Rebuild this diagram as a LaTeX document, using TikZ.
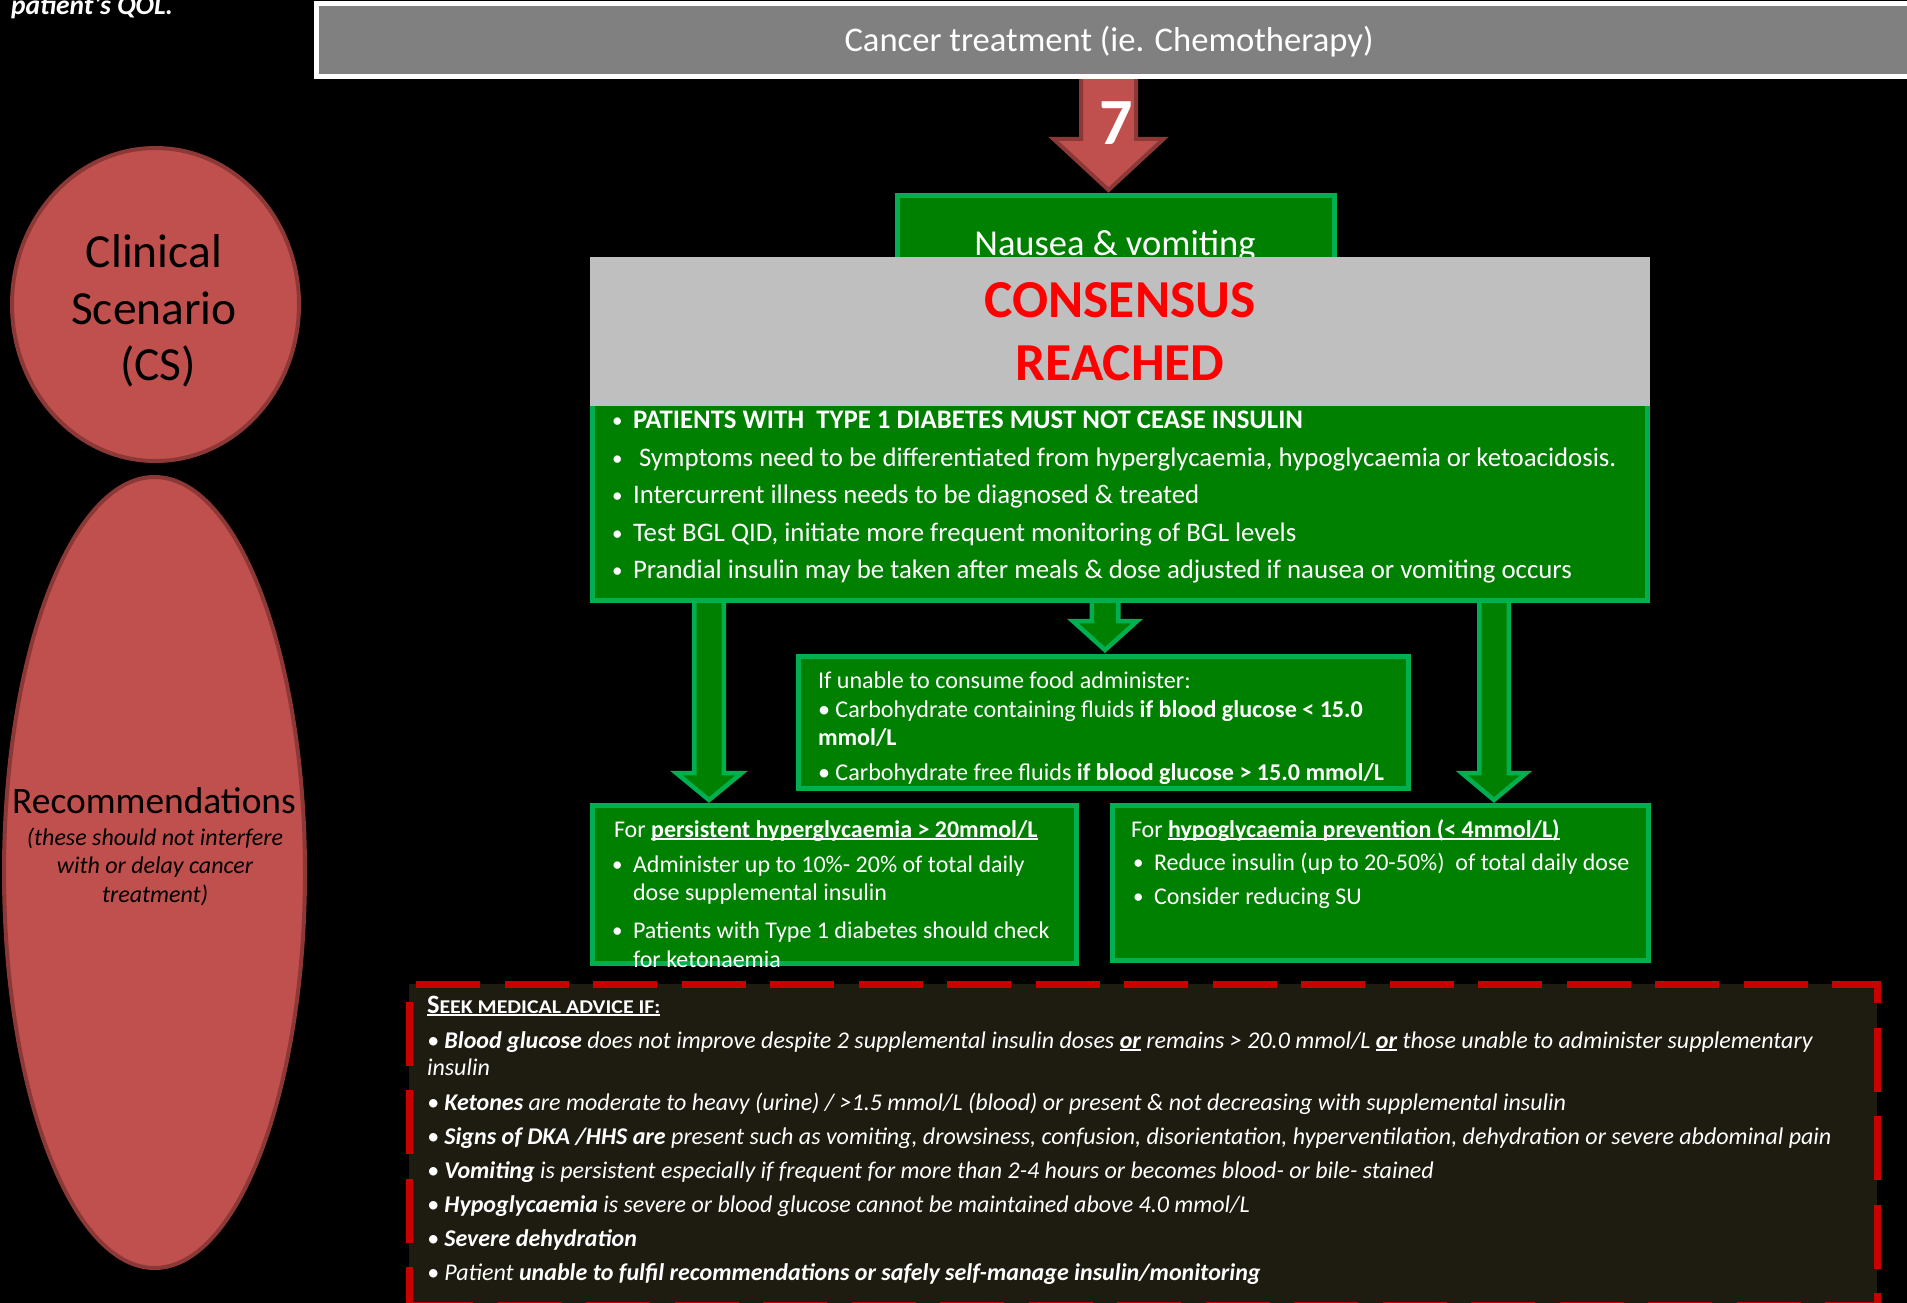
\documentclass[tikz,border=0pt]{standalone}
\usepackage{fontspec}
\setmainfont{Carlito}
\usepackage{graphicx}
\usetikzlibrary{calc,shapes.geometric}
\definecolor{gfill}{HTML}{008000}
\definecolor{gline}{HTML}{00B050}
\definecolor{rfill}{HTML}{C0504D}
\definecolor{rline}{HTML}{8C3836}
\definecolor{greyc}{HTML}{808080}
\definecolor{lgrey}{HTML}{BFBFBF}
\definecolor{cred}{HTML}{FF0000}
\definecolor{dred}{HTML}{C80000}
\definecolor{darkbox}{HTML}{1E1B11}
\newcommand\fsz[1]{\fontsize{#1}{#1}\selectfont}
\newcommand\myuline[1]{\setbox0=\hbox{#1}\rlap{\rule[-2.8pt]{\wd0}{1.7pt}}\box0\relax}
\newcommand\smbul{\raisebox{1pt}{\fsz{21}•}}
\newcommand\blockarr[6]{%
  \path[#6] let \p1=(#1), \p2=(#2) in
    (\x1-#3,\y1) -- (\x1+#3,\y1) -- (\x1+#3,\y2+#5) -- (\x1+#4,\y2+#5) --
    (\x2,\y2) -- (\x1-#4,\y2+#5) -- (\x1-#3,\y2+#5) -- cycle;}
\tikzset{
  every node/.style={inner sep=0pt, outer sep=0pt},
  gbox/.style={rectangle, draw=gline, fill=gfill, line width=5pt, anchor=north west},
  oval/.style={ellipse, draw=rline, fill=rfill, line width=4pt},
  wt/.style={text=white, anchor=base west},
  bt/.style={text=black, anchor=base},
  garr/.style={draw=gline, fill=gfill, line width=4.5pt, line join=miter},
  rarr/.style={draw=rline, fill=rfill, line width=4pt, line join=miter},
}
\begin{document}
\begin{tikzpicture}[x=1pt,y=-1pt]
\fill[black] (0,0) rectangle (1907,1303);
\useasboundingbox (0,0) rectangle (1907,1303);
\clip (0,0) rectangle (1907,1303);

% top-left cut text
\node[wt, font=\fsz{27.5}\bfseries\itshape] (qol) at (11,15) {patient’s QOL.};

% ellipses
\node[oval, minimum width=287pt, minimum height=313pt] (cs) at (155.5,304.5) {};
\node[bt, font=\fsz{47.5}] (cs1) at (154,267) {Clinical};
\node[bt, font=\fsz{47.5}] (cs2) at (154,324) {Scenario};
\node[bt, font=\fsz{47.5}] (cs3) at (158,380) {(CS)};
\node[oval, minimum width=301pt, minimum height=791pt] (rec) at (154.5,872.5) {};
\node[bt, font=\fsz{37.4}] (rec1) at (154,813) {Recommendations};
\node[bt, font=\fsz{24}\itshape] (rec2) at (155,845) {(these should not interfere};
\node[bt, font=\fsz{24}\itshape] (rec3) at (155,873) {with or delay cancer};
\node[bt, font=\fsz{24}\itshape] (rec4) at (155,902) {treatment)};

% red arrow
\coordinate (rA) at (1108.5,70);
\coordinate (rT) at (1108.5,190);
\blockarr{rA}{rT}{27.5pt}{55pt}{51pt}{rarr}

% top grey box
\node[rectangle, draw=white, fill=greyc, line width=5pt, anchor=north west,
      minimum width=1700pt, minimum height=73pt] (top) at (316.5,3.5) {};
\node[text=white, anchor=base, font=\fsz{34.6}] (toptxt) at (1109,52) {Cancer treatment (ie. Chemotherapy)};
\node[text=white, anchor=base, font=\fsz{66}\bfseries] (seven) at (1116,145) {7};

% green arrows
\coordinate (lA) at (709,598);  \coordinate (lT) at (709,800);
\coordinate (mA) at (1105,598); \coordinate (mT) at (1105,650);
\coordinate (gA) at (1494,598); \coordinate (gT) at (1494,800);
\blockarr{lA}{lT}{14.75pt}{32.75pt}{27pt}{garr}
\blockarr{mA}{mT}{13.25pt}{32.25pt}{29pt}{garr}
\blockarr{gA}{gT}{14.75pt}{32.25pt}{27pt}{garr}

% nausea box
\node[gbox, minimum width=437pt, minimum height=120pt] (nau) at (897.5,195.5) {};
\node[text=white, anchor=base, font=\fsz{36.5}] (nautxt) at (1115,255) {Nausea \& vomiting};

% big box
\node[gbox, minimum width=1055pt, minimum height=212pt] (big) at (592.5,388.5) {};

% consensus
\node[rectangle, fill=lgrey, anchor=north west, minimum width=1060pt, minimum height=149pt] (cons) at (590,257) {};
\node[text=cred, anchor=base, font=\fsz{53.4}\bfseries] (cons1) at (1120,317) {CONSENSUS};
\node[text=cred, anchor=base, font=\fsz{53.4}\bfseries] (cons2) at (1120,380) {REACHED};

% big box bullets
\begin{scope}[every node/.append style={font=\fsz{26.8}}]
\node[wt] (bb1) at (612,428) {\smbul};
\node[wt] (bt1) at (633,428) {\textbf{PATIENTS WITH~ TYPE 1 DIABETES MUST NOT CEASE INSULIN}};
\node[wt] (bb2) at (612,466) {\smbul};
\node[wt] (bt2) at (639,466) {Symptoms need to be differentiated from hyperglycaemia, hypoglycaemia or ketoacidosis.};
\node[wt] (bb3) at (612,503) {\smbul};
\node[wt] (bt3) at (633,503) {Intercurrent illness needs to be diagnosed \& treated};
\node[wt] (bb4) at (612,541) {\smbul};
\node[wt] (bt4) at (633,541) {Test BGL QID, initiate more frequent monitoring of BGL levels};
\node[wt] (bb5) at (612,578) {\smbul};
\node[wt] (bt5) at (633,578) {Prandial insulin may be taken after meals \& dose adjusted if nausea or vomiting occurs};
\end{scope}

% middle box
\node[gbox, minimum width=610pt, minimum height=132pt] (mid) at (798.5,656.5) {};
\begin{scope}[every node/.append style={font=\fsz{24.1}}]
\node[wt] (m1) at (818,688) {If unable to consume food administer:};
\node[wt] (m2) at (818,717) {• Carbohydrate containing fluids \textbf{if blood glucose < 15.0}};
\node[wt] (m3) at (818,745) {\textbf{mmol/L}};
\node[wt] (m4) at (818,780) {• Carbohydrate free fluids \textbf{if blood glucose > 15.0 mmol/L}};
\end{scope}

% bottom boxes
\node[gbox, minimum width=484pt, minimum height=158pt] (hyper) at (592.5,805.5) {};
\node[gbox, minimum width=536pt, minimum height=155pt] (hypo) at (1112.5,805.5) {};
\begin{scope}[every node/.append style={font=\fsz{24}}]
\node[wt] (h0) at (614,837) {For \myuline{\textbf{persistent hyperglycaemia > 20mmol/L}}};
\node[wt] (hb1) at (612,872) {\smbul};
\node[wt] (h1) at (633,872) {Administer up to 10\%- 20\% of total daily};
\node[wt] (h2) at (633,900) {dose supplemental insulin};
\node[wt] (hb3) at (612,938) {\smbul};
\node[wt] (h3) at (633,938) {Patients with Type 1 diabetes should check};
\node[wt] (h4) at (633,967) {for ketonaemia};
\node[wt] (p0) at (1131,837) {For \myuline{\textbf{hypoglycaemia prevention (< 4mmol/L)}}};
\node[wt] (pb1) at (1133,870) {\smbul};
\node[wt] (p1) at (1154,870) {Reduce insulin (up to 20-50\%)~ of total daily dose};
\node[wt] (pb2) at (1133,904) {\smbul};
\node[wt] (p2) at (1154,904) {Consider reducing SU};
\end{scope}

% dashed advice box
\node[rectangle, draw=dred, fill=darkbox, line width=7pt, dash pattern=on 64pt off 24.5pt,
      anchor=north west, minimum width=1468pt, minimum height=321pt] (adv) at (409,984) {};
\node[wt, font=\bfseries] (a0) at (427,1013) {\myuline{{\fsz{26.5}S}{\fsz{19.5}\scalebox{1.12}[1]{EEK MEDICAL ADVICE IF:}}}};
\begin{scope}[every node/.append style={font=\fsz{24}\itshape}]
\node[wt] (a1) at (427,1048) {• \textbf{Blood glucose} does not improve despite 2 supplemental insulin doses \myuline{\textbf{or}} remains > 20.0 mmol/L \myuline{\textbf{or}} those unable to administer supplementary};
\node[wt] (a2) at (427,1075) {insulin};
\node[wt] (a3) at (427,1110) {• \textbf{Ketones} are moderate to heavy (urine) / >1.5 mmol/L (blood) or present \& not decreasing with supplemental insulin};
\node[wt] (a4) at (427,1144) {• \textbf{Signs of DKA /HHS are} present such as vomiting, drowsiness, confusion, disorientation, hyperventilation, dehydration or severe abdominal pain};
\node[wt] (a5) at (427,1178) {• \textbf{Vomiting} is persistent especially if frequent for more than 2-4 hours or becomes blood- or bile- stained};
\node[wt] (a6) at (427,1212) {• \textbf{Hypoglycaemia} is severe or blood glucose cannot be maintained above 4.0 mmol/L};
\node[wt] (a7) at (427,1246) {• \textbf{Severe dehydration}};
\node[wt] (a8) at (427,1280) {• Patient \textbf{unable to fulfil recommendations or safely self-manage insulin/monitoring}};
\end{scope}
\end{tikzpicture}
\end{document}
